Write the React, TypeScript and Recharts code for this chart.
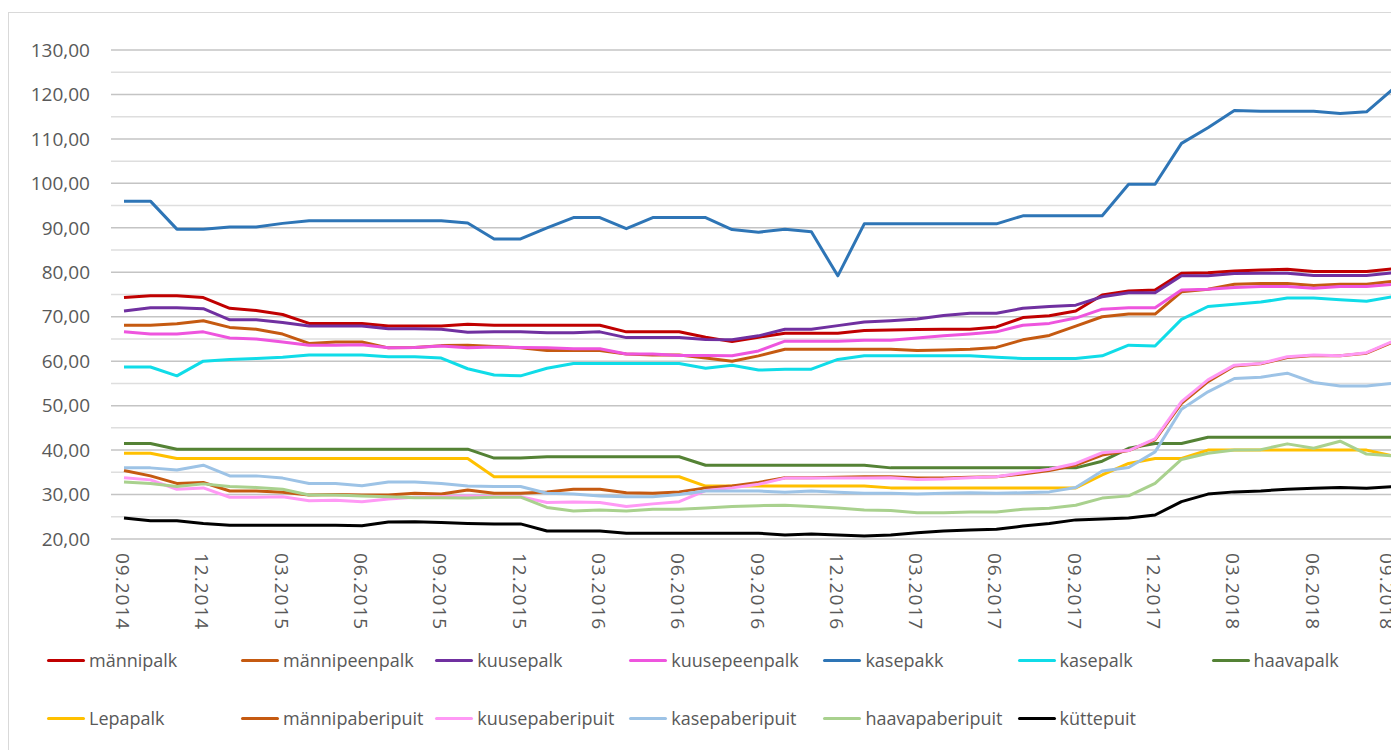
import React from "react";
import { LineChart, Line, XAxis, YAxis, CartesianGrid, ReferenceLine, Legend } from "recharts";

const months = [
  "09.2014", "10.2014", "11.2014", "12.2014", "01.2015", "02.2015", "03.2015", "04.2015", "05.2015", "06.2015",
  "07.2015", "08.2015", "09.2015", "10.2015", "11.2015", "12.2015", "01.2016", "02.2016", "03.2016", "04.2016",
  "05.2016", "06.2016", "07.2016", "08.2016", "09.2016", "10.2016", "11.2016", "12.2016", "01.2017", "02.2017",
  "03.2017", "04.2017", "05.2017", "06.2017", "07.2017", "08.2017", "09.2017", "10.2017", "11.2017", "12.2017",
  "01.2018", "02.2018", "03.2018", "04.2018", "05.2018", "06.2018", "07.2018", "08.2018", "09.2018",
];

const mannipalk = [
  74.3, 74.7, 74.7, 74.3, 71.9, 71.4, 70.5, 68.5, 68.5, 68.5,
  67.9, 67.9, 67.9, 68.3, 68.1, 68.1, 68.1, 68.1, 68.1, 66.6,
  66.6, 66.6, 65.4, 64.4, 65.4, 66.3, 66.3, 66.3, 66.9, 67.0,
  67.1, 67.2, 67.2, 67.7, 69.8, 70.2, 71.3, 74.9, 75.8, 76.0,
  79.8, 79.9, 80.3, 80.5, 80.7, 80.2, 80.2, 80.2, 80.8,
];
const mannipeenpalk = [
  68.1, 68.1, 68.4, 69.1, 67.6, 67.2, 66.1, 64.0, 64.3, 64.3,
  63.0, 63.1, 63.5, 63.6, 63.3, 63.0, 62.4, 62.4, 62.4, 61.6,
  61.4, 61.4, 60.7, 60.0, 61.2, 62.7, 62.7, 62.7, 62.7, 62.7,
  62.4, 62.5, 62.7, 63.1, 64.8, 65.8, 67.9, 70.0, 70.6, 70.6,
  75.6, 76.2, 77.3, 77.5, 77.5, 77.0, 77.3, 77.3, 78.0,
];
const kuusepalk = [
  71.3, 72.0, 72.0, 71.8, 69.3, 69.3, 68.7, 67.9, 67.9, 67.9,
  67.3, 67.3, 67.2, 66.5, 66.6, 66.6, 66.4, 66.4, 66.6, 65.3,
  65.3, 65.3, 64.9, 64.8, 65.7, 67.2, 67.2, 68.0, 68.8, 69.1,
  69.5, 70.3, 70.8, 70.8, 71.9, 72.3, 72.6, 74.5, 75.4, 75.4,
  79.2, 79.2, 79.7, 79.8, 79.8, 79.3, 79.3, 79.3, 79.9,
];
const kuusepeenpalk = [
  66.6, 66.1, 66.1, 66.6, 65.2, 65.0, 64.3, 63.6, 63.6, 63.7,
  63.0, 63.1, 63.4, 63.0, 63.2, 63.1, 63.0, 62.8, 62.8, 61.6,
  61.6, 61.3, 61.3, 61.2, 62.3, 64.5, 64.5, 64.5, 64.7, 64.7,
  65.2, 65.7, 66.1, 66.6, 68.1, 68.5, 69.7, 71.7, 72.0, 72.0,
  76.0, 76.2, 76.6, 76.8, 76.8, 76.4, 76.8, 76.8, 77.3,
];
const kasepakk = [
  96.0, 96.0, 89.7, 89.7, 90.2, 90.2, 91.0, 91.6, 91.6, 91.6,
  91.6, 91.6, 91.6, 91.1, 87.5, 87.5, 90.0, 92.3, 92.3, 89.8,
  92.3, 92.3, 92.3, 89.6, 89.0, 89.7, 89.1, 79.2, 90.9, 90.9,
  90.9, 90.9, 90.9, 90.9, 92.7, 92.7, 92.7, 92.7, 99.8, 99.8,
  109.0, 112.5, 116.4, 116.2, 116.2, 116.2, 115.7, 116.1, 121.2,
];
const kasepalk = [
  58.7, 58.7, 56.7, 60.0, 60.4, 60.6, 60.9, 61.4, 61.4, 61.4,
  61.0, 61.0, 60.7, 58.3, 56.9, 56.7, 58.4, 59.5, 59.5, 59.5,
  59.5, 59.5, 58.4, 59.1, 58.0, 58.2, 58.2, 60.4, 61.2, 61.2,
  61.2, 61.2, 61.2, 60.9, 60.6, 60.6, 60.6, 61.2, 63.6, 63.4,
  69.4, 72.3, 72.8, 73.3, 74.2, 74.2, 73.8, 73.5, 74.5,
];
const haavapalk = [
  41.5, 41.5, 40.2, 40.2, 40.2, 40.2, 40.2, 40.2, 40.2, 40.2,
  40.2, 40.2, 40.2, 40.2, 38.2, 38.2, 38.5, 38.5, 38.5, 38.5,
  38.5, 38.5, 36.6, 36.6, 36.6, 36.6, 36.6, 36.6, 36.6, 36.0,
  36.0, 36.0, 36.0, 36.0, 36.0, 36.0, 36.0, 37.5, 40.4, 41.5,
  41.5, 42.9, 42.9, 42.9, 42.9, 42.9, 42.9, 42.9, 42.9,
];
const lepapalk = [
  39.3, 39.3, 38.1, 38.1, 38.1, 38.1, 38.1, 38.1, 38.1, 38.1,
  38.1, 38.1, 38.1, 38.1, 34.0, 34.0, 34.0, 34.0, 34.0, 34.0,
  34.0, 34.0, 31.9, 31.9, 31.9, 31.9, 31.9, 31.9, 31.9, 31.5,
  31.5, 31.5, 31.5, 31.5, 31.5, 31.5, 31.5, 34.4, 37.0, 38.1,
  38.1, 40.0, 40.0, 40.0, 40.0, 40.0, 40.0, 40.0, 38.7,
];
const mannipaberipuit = [
  35.4, 34.2, 32.5, 32.7, 30.8, 30.8, 30.5, 29.9, 30.0, 29.9,
  29.9, 30.3, 30.1, 31.0, 30.3, 30.3, 30.6, 31.2, 31.2, 30.4,
  30.3, 30.6, 31.5, 31.9, 32.7, 33.8, 33.8, 33.9, 34.0, 34.0,
  33.7, 33.7, 33.9, 34.0, 34.6, 35.4, 36.6, 38.9, 39.9, 42.3,
  50.5, 55.4, 58.9, 59.4, 60.8, 61.3, 61.2, 61.8, 64.3,
];
const kuusepaberipuit = [
  33.8, 33.3, 31.2, 31.5, 29.4, 29.4, 29.5, 28.6, 28.7, 28.4,
  29.0, 29.4, 29.5, 29.7, 29.5, 29.5, 28.2, 28.3, 28.2, 27.3,
  27.9, 28.4, 30.9, 31.5, 32.3, 33.7, 33.7, 33.7, 33.7, 33.8,
  33.4, 33.5, 33.8, 34.0, 34.9, 35.7, 37.0, 39.4, 39.9, 42.5,
  50.9, 55.8, 59.1, 59.5, 61.0, 61.4, 61.2, 61.9, 64.5,
];
const kasepaberipuit = [
  36.0, 36.0, 35.5, 36.6, 34.2, 34.2, 33.7, 32.5, 32.5, 32.0,
  32.8, 32.8, 32.5, 31.9, 31.8, 31.8, 30.3, 30.1, 29.7, 29.5,
  29.5, 30.0, 30.8, 30.8, 30.8, 30.5, 30.8, 30.5, 30.3, 30.3,
  30.1, 30.3, 30.4, 30.3, 30.4, 30.6, 31.6, 35.3, 36.1, 39.6,
  49.2, 53.1, 56.1, 56.4, 57.3, 55.2, 54.4, 54.4, 55.0,
];
const haavapaberipuit = [
  32.8, 32.5, 31.8, 32.4, 31.8, 31.6, 31.2, 29.9, 29.9, 29.7,
  29.5, 29.3, 29.3, 29.2, 29.4, 29.4, 27.1, 26.3, 26.5, 26.3,
  26.7, 26.7, 27.0, 27.3, 27.5, 27.6, 27.3, 27.0, 26.5, 26.4,
  25.9, 25.9, 26.1, 26.1, 26.7, 26.9, 27.6, 29.2, 29.7, 32.5,
  37.9, 39.3, 40.0, 40.1, 41.4, 40.4, 42.0, 39.1, 38.7,
];
const kuttepuit = [
  24.7, 24.1, 24.1, 23.5, 23.1, 23.1, 23.1, 23.1, 23.1, 23.0,
  23.8, 23.9, 23.7, 23.5, 23.4, 23.4, 21.8, 21.8, 21.8, 21.3,
  21.3, 21.3, 21.3, 21.3, 21.3, 20.9, 21.1, 20.9, 20.7, 20.9,
  21.4, 21.8, 22.0, 22.2, 22.9, 23.5, 24.3, 24.5, 24.7, 25.4,
  28.4, 30.1, 30.6, 30.8, 31.2, 31.4, 31.6, 31.4, 31.8,
];

const majorTicks = [20, 30, 40, 50, 60, 70, 80, 90, 100, 110, 120, 130];
const minorTicks = [25, 35, 45, 55, 65, 75, 85, 95, 105, 115, 125];

const series = [
  { key: "männipalk", values: mannipalk, color: "#C00000" },
  { key: "männipeenpalk", values: mannipeenpalk, color: "#C55A11" },
  { key: "kuusepalk", values: kuusepalk, color: "#7030A0" },
  { key: "kuusepeenpalk", values: kuusepeenpalk, color: "#EE55DE" },
  { key: "kasepakk", values: kasepakk, color: "#2E75B6" },
  { key: "kasepalk", values: kasepalk, color: "#10DCE8" },
  { key: "haavapalk", values: haavapalk, color: "#548235" },
  { key: "Lepapalk", values: lepapalk, color: "#FFC000" },
  { key: "männipaberipuit", values: mannipaberipuit, color: "#C55A11" },
  { key: "kuusepaberipuit", values: kuusepaberipuit, color: "#FF99F5" },
  { key: "kasepaberipuit", values: kasepaberipuit, color: "#9DC3E6" },
  { key: "haavapaberipuit", values: haavapaberipuit, color: "#A9D18E" },
  { key: "küttepuit", values: kuttepuit, color: "#000000" },
];

const data = months.map((m, i) => {
  const row: any = { month: m };
  series.forEach((s) => (row[s.key] = s.values[i]));
  return row;
});

const FONT = "'Open Sans', 'Noto Sans', sans-serif";

const fmt = (v: number) => v.toFixed(2).replace(".", ",");

function MonthTick(props: any) {
  const { x, y, payload } = props;
  // keep the last label inside the frame
  const tx = Math.min(x - 1, 1378);
  return (
    <text
      transform={`translate(${tx},${y}) rotate(90)`}
      textAnchor="start"
      dominantBaseline="central"
      fill="#595959"
      fontSize={19}
      letterSpacing={1}
      fontFamily={FONT}
    >
      {payload.value}
    </text>
  );
}

// legend in the series order, 7 per row
function LegendGrid() {
  return (
    <div style={{ position: "relative", height: 118, width: 1390 }}>
      {series.map((s, i) => {
        const col = i % 7;
        const row = Math.floor(i / 7);
        return (
          <div
            key={s.key}
            style={{
              position: "absolute",
              left: 38 + col * 194.1,
              top: 2 + row * 58,
              height: 58,
              display: "flex",
              alignItems: "center",
              fontFamily: FONT,
              fontSize: 18,
              color: "#595959",
              whiteSpace: "nowrap",
            }}
          >
            <span style={{ display: "inline-block", width: 38, height: 3, borderRadius: 2, background: s.color, marginRight: 4 }} />
            {s.key}
          </div>
        );
      })}
    </div>
  );
}

export default function App() {
  return (
    <div
      style={{
        marginTop: 4,
        width: 1391,
        height: 738,
        borderTop: "1px solid #d9d9d9",
        borderLeft: "1px solid #d9d9d9",
        overflow: "hidden",
        background: "#fff",
      }}
    >
      <LineChart width={1397} height={738} data={data} margin={{ top: 37, right: 0, bottom: 4, left: 0 }}>
        <CartesianGrid vertical={false} stroke="#c4c4c4" strokeWidth={1.5} />
        {minorTicks.map((t) => (
          <ReferenceLine key={t} y={t} stroke="#dedede" strokeWidth={1.5} />
        ))}
        <XAxis
          dataKey="month"
          interval={2}
          padding={{ left: 13, right: 13 }}
          axisLine={false}
          tickLine={false}
          tickMargin={8}
          height={90}
          tick={<MonthTick />}
        />
        <YAxis
          domain={[20, 130]}
          ticks={majorTicks}
          width={102}
          axisLine={false}
          tickLine={false}
          tickMargin={15}
          tickFormatter={fmt}
          tick={{ fill: "#595959", fontSize: 19, fontFamily: FONT }}
        />
        <Legend verticalAlign="bottom" content={<LegendGrid />} wrapperStyle={{ left: 0, width: 1390 }} />
        {series.map((s) => (
          <Line
            key={s.key}
            type="linear"
            dataKey={s.key}
            name={s.key}
            stroke={s.color}
            strokeWidth={3}
            strokeLinejoin="round"
            dot={false}
            isAnimationActive={false}
          />
        ))}
      </LineChart>
    </div>
  );
}
